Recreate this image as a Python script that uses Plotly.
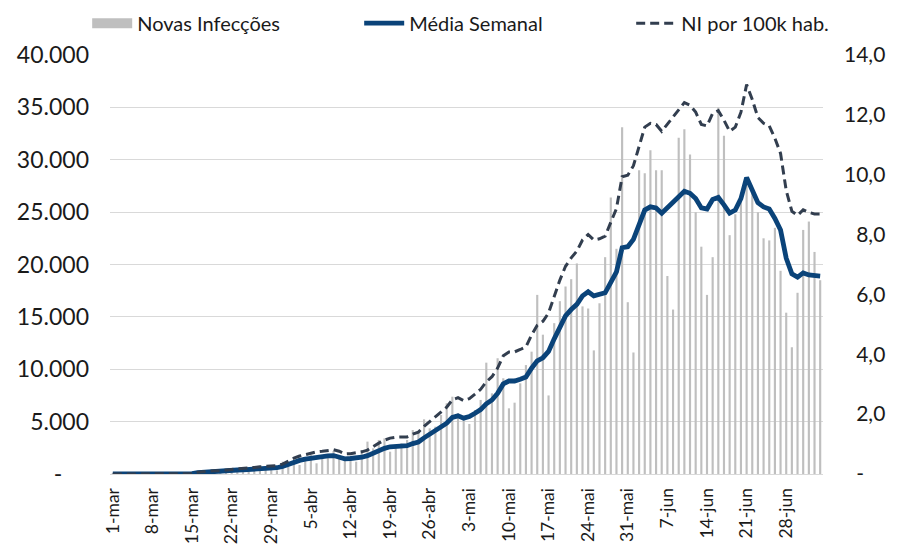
import plotly.graph_objects as go

# ---- data -------------------------------------------------------------
months = [("mar", 31), ("abr", 30), ("mai", 31), ("jun", 30), ("jul", 4)]
dates = [f"{d}-{m}" for m, n in months for d in range(1, n + 1)]

tick_labels = ["1-mar", "8-mar", "15-mar", "22-mar", "29-mar", "5-abr", "12-abr",
               "19-abr", "26-abr", "3-mai", "10-mai", "17-mai", "24-mai", "31-mai",
               "7-jun", "14-jun", "21-jun", "28-jun"]

novas_infeccoes = [
    1, 0, 0, 0, 2, 0, 6, 5, 6, 9, 5, 14, 39, 21, 31,
    110, 180, 230, 290, 170, 230, 410, 430, 320, 340, 490, 560, 650, 480, 350,
    1180, 1100, 1020, 860, 1340, 1810, 1020, 1650, 1810, 2200,
    1650, 1340, 1650, 1180, 2290, 3090, 2450, 3250, 3400, 2130,
    2450, 2930, 3250, 4200, 4040, 5220, 4360, 4520, 5630, 6750,
    7380, 5800, 5160, 4780, 6110, 7070, 10630, 7700, 11050, 9140,
    6270, 6810, 8660, 10400, 11680, 17100, 13300, 7500, 14400, 16500,
    17900, 18600, 20100, 16000, 15800, 11800, 16300, 20700, 26400, 21500,
    33100, 16400, 11600, 29000, 28700, 30900, 29000, 29000, 18900, 15700,
    32100, 32900, 30500, 25000, 21700, 17100, 20700, 35000, 32300, 22800,
    24800, 26400, 27800, 27000, 25000, 22500, 22300, 23500, 19400, 15400,
    12100, 17300, 23300, 24100, 21200, 18500,
]

media_semanal = [
    0, 0, 0, 0, 0, 1, 1, 2, 3, 4, 6, 9, 14, 20, 30,
    120, 170, 210, 230, 250, 270, 330, 380, 400, 420, 470, 520, 560, 580, 600,
    720, 950, 1150, 1300, 1420, 1520, 1600, 1660, 1720, 1760,
    1650, 1450, 1480, 1520, 1600, 1750, 2000, 2250, 2450, 2600,
    2670, 2680, 2700, 2900, 3050, 3450, 3800, 4100, 4500, 4850,
    5400, 5550, 5330, 5480, 5800, 6150, 6700, 7070, 7700, 8600,
    8880, 8880, 9050, 9250, 10100, 10800, 11100, 11700, 12900, 14100,
    15100, 15700, 16200, 17000, 17400, 17000, 17100, 17300, 18300, 19300,
    21600, 21700, 22400, 23800, 25200, 25500, 25400, 24900, 25400, 25900,
    26500, 27000, 26800, 26300, 25400, 25300, 26200, 26400, 25700, 24900,
    25200, 26300, 28300, 27200, 25900, 25500, 25300, 24400, 23300, 20600,
    19100, 18800, 19200, 19000, 18900, 18900,
]

ni_100k = [
    0.00, 0.00, 0.00, 0.00, 0.00, 0.00, 0.00, 0.00, 0.00, 0.00, 0.00, 0.00, 0.01, 0.01, 0.01,
    0.06, 0.08, 0.10, 0.11, 0.11, 0.12, 0.15, 0.17, 0.18, 0.19, 0.22, 0.24, 0.26, 0.27, 0.28,
    0.33, 0.44, 0.53, 0.60, 0.65, 0.70, 0.74, 0.76, 0.79, 0.81,
    0.76, 0.67, 0.68, 0.70, 0.74, 0.80, 0.92, 1.03, 1.13, 1.20,
    1.23, 1.23, 1.24, 1.33, 1.40, 1.59, 1.75, 1.89, 2.07, 2.23,
    2.48, 2.55, 2.45, 2.52, 2.67, 2.83, 3.08, 3.25, 3.54, 3.95,
    4.08, 4.08, 4.16, 4.25, 4.64, 4.97, 5.10, 5.38, 5.93, 6.48,
    6.94, 7.22, 7.45, 7.82, 8.00, 7.82, 7.86, 7.95, 8.41, 8.87,
    9.93, 9.98, 10.30, 10.94, 11.59, 11.72, 11.68, 11.45, 11.68, 11.91,
    12.18, 12.41, 12.32, 12.09, 11.68, 11.63, 12.05, 12.14, 11.82, 11.45,
    11.59, 12.09, 13.01, 12.51, 11.91, 11.72, 11.63, 11.22, 10.71, 9.47,
    8.78, 8.64, 8.83, 8.74, 8.69, 8.69,
]

left_ticks = [0, 5000, 10000, 15000, 20000, 25000, 30000, 35000, 40000]
left_labels = ["-\u2007\u2007", "5.000", "10.000", "15.000", "20.000", "25.000",
               "30.000", "35.000", "40.000"]
right_ticks = [0, 2, 4, 6, 8, 10, 12, 14]
right_labels = ["\u2007-\u2007\u2007", "\u20072,0", "\u20074,0", "\u20076,0", "\u20078,0",
                "10,0", "12,0", "14,0"]

# ---- figure -----------------------------------------------------------
FONT = "Lato"
GRID = "#D9D9D9"
BAR = "#BFBFBF"
BLUE = "#0A4379"
DASH = "#323E4F"

fig = go.Figure()
fig.add_trace(go.Bar(x=dates, y=novas_infeccoes, marker_color=BAR,
                     marker_line_width=0, showlegend=False, name="Novas Infecções"))
# legend swatch for bars (wide grey block)
fig.add_trace(go.Scatter(x=[None], y=[None], mode="lines", name="Novas Infecções",
                         line=dict(color=BAR, width=13)))
fig.add_trace(go.Scatter(x=dates, y=media_semanal, mode="lines", name="Média Semanal",
                         line=dict(color=BLUE, width=4.8)))
fig.add_trace(go.Scatter(x=dates, y=ni_100k, mode="lines", name="NI por 100k hab.",
                         yaxis="y2", line=dict(color=DASH, width=3, dash="9px,5px")))

fig.update_layout(
    width=899, height=544,
    margin=dict(l=102, r=84, t=47, b=78, autoexpand=False),
    paper_bgcolor="white", plot_bgcolor="white",
    font=dict(family=FONT, size=20, color="#1a1a1a"),
    bargap=0.62,
    showlegend=True,
    legend=dict(orientation="h", x=-0.032, xanchor="left", y=1.076, yanchor="middle",
                font=dict(family=FONT, size=20, color="#1a1a1a"),
                entrywidth=217, entrywidthmode="pixels", itemwidth=40,
                bgcolor="rgba(0,0,0,0)", traceorder="normal"),
    xaxis=dict(type="category", range=[-0.5, len(dates) - 0.5],
               tickmode="array", tickvals=tick_labels, ticktext=tick_labels,
               tickangle=-90, tickfont=dict(size=17.5), showgrid=False,
               showline=True, linecolor=GRID, linewidth=1, ticks="", zeroline=False,
               ticklabelstandoff=6),
    yaxis=dict(range=[0, 40000], tickmode="array", tickvals=left_ticks,
               ticktext=left_labels, showgrid=True, gridcolor=GRID, gridwidth=1,
               zeroline=False, ticks="", ticklabelstandoff=20, tickfont=dict(size=23)),
    yaxis2=dict(range=[0, 14], overlaying="y", side="right", tickmode="array",
                tickvals=right_ticks, ticktext=right_labels, showgrid=False,
                zeroline=False, ticks="", ticklabelstandoff=20, tickfont=dict(size=21)),
)

fig.write_html("out.html")
